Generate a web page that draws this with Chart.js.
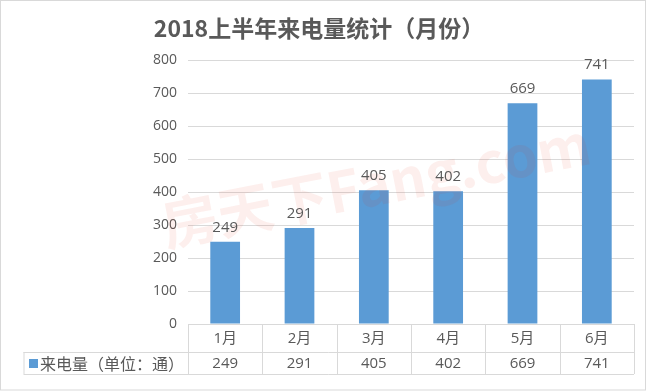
<!DOCTYPE html>
<html>
<head>
<meta charset="utf-8">
<script src="https://cdn.jsdelivr.net/npm/chart.js@4"></script>
<style>
  html, body { margin: 0; padding: 0; background: #fff; }
  #wrap { width: 649px; height: 391px; }
</style>
</head>
<body>
<div id="wrap"><canvas id="c"></canvas></div>
<script>
var months = ['1月', '2月', '3月', '4月', '5月', '6月']
var calls = [249, 291, 405, 402, 669, 741]
var seriesName = '来电量（单位：通）'
var chartTitle = '2018上半年来电量统计（月份）'

var textColor = '#595959'
var lineColor = '#D9D9D9'
var barColor = '#5B9BD5'
var font = '"Open Sans", "Noto Sans CJK SC", sans-serif'
var cjkFont = '"Noto Sans CJK SC", sans-serif'

// frame, title, watermark and data table under the x axis
var extras = {
	id: 'extras',
	beforeDraw: function(chart) {
		var ctx = chart.ctx
		ctx.save()
		ctx.fillStyle = '#fff'
		ctx.fillRect(0, 0, chart.width, chart.height)
		ctx.strokeStyle = lineColor
		ctx.lineWidth = 1
		ctx.strokeRect(0.5, 0.5, chart.width - 4, chart.height - 1.5)
		ctx.restore()
	},
	afterDatasetsDraw: function(chart) {
		var ctx = chart.ctx
		ctx.save()
		ctx.translate(376, 184)
		ctx.rotate(-11 * Math.PI / 180)
		ctx.font = 'bold 56px ' + cjkFont
		ctx.fillStyle = 'rgba(235, 50, 30, 0.08)'
		ctx.textAlign = 'center'
		ctx.textBaseline = 'middle'
		ctx.fillText('房天下Fang.com', 0, 0)
		ctx.restore()
	},
	afterDraw: function(chart) {
		var ctx = chart.ctx
		var x = chart.scales.x
		var area = chart.chartArea
		var top = area.bottom
		var mid = top + 28
		var bot = mid + 22
		var tableLeft = 23.5
		var step = (area.right - area.left) / months.length

		ctx.save()
		ctx.font = 'bold 23px ' + cjkFont
		ctx.fillStyle = textColor
		ctx.textAlign = 'center'
		ctx.textBaseline = 'middle'
		ctx.fillText(chartTitle, 319, 28)

		ctx.strokeStyle = lineColor
		ctx.lineWidth = 1
		ctx.beginPath()
		ctx.moveTo(tableLeft, mid + 0.5)
		ctx.lineTo(area.right, mid + 0.5)
		ctx.moveTo(tableLeft, bot + 0.5)
		ctx.lineTo(area.right, bot + 0.5)
		ctx.moveTo(tableLeft + 0.5, mid)
		ctx.lineTo(tableLeft + 0.5, bot)
		for (var i = 0; i <= months.length; i++) {
			var lx = Math.round(area.left + i * step) + 0.5
			ctx.moveTo(lx, top)
			ctx.lineTo(lx, bot)
		}
		ctx.stroke()

		ctx.fillStyle = textColor
		ctx.font = '15px ' + font
		months.forEach(function(m, i) {
			var cx = x.getPixelForValue(i)
			ctx.fillText(m, cx, (top + mid) / 2 + 1)
			ctx.fillText(String(calls[i]), cx, (mid + bot) / 2 + 1)
		})

		ctx.fillStyle = barColor
		ctx.fillRect(29, mid + 7, 9, 9)
		ctx.fillStyle = textColor
		ctx.textAlign = 'left'
		ctx.font = '16px ' + cjkFont
		ctx.fillText(seriesName, 40, (mid + bot) / 2 + 1)

		ctx.font = '15px ' + font
		ctx.textAlign = 'center'
		ctx.textBaseline = 'bottom'
		calls.forEach(function(v, i) {
			ctx.fillText(String(v), x.getPixelForValue(i), chart.scales.y.getPixelForValue(v) - 7)
		})
		ctx.restore()
	}
}

new Chart(document.getElementById('c'), {
	type: 'bar',
	data: {
		labels: months,
		datasets: [{
			label: seriesName,
			data: calls,
			backgroundColor: barColor,
			categoryPercentage: 1,
			barPercentage: 0.4
		}]
	},
	options: {
		responsive: true,
		maintainAspectRatio: false,
		animation: false,
		layout: { padding: { top: 60, right: 15, bottom: 59, left: 0 } },
		plugins: {
			legend: { display: false },
			title: { display: false },
			tooltip: { enabled: false }
		},
		scales: {
			x: {
				grid: { display: false },
				border: { display: true, color: lineColor },
				ticks: { display: false }
			},
			y: {
				min: 0,
				max: 800,
				afterFit: function(s) { s.width = 188 },
				grid: { color: lineColor, drawTicks: false },
				border: { display: false },
				ticks: {
					stepSize: 100,
					padding: 11,
					color: textColor,
					font: { size: 14, family: font }
				}
			}
		}
	},
	plugins: [extras]
})
</script>
</body>
</html>
